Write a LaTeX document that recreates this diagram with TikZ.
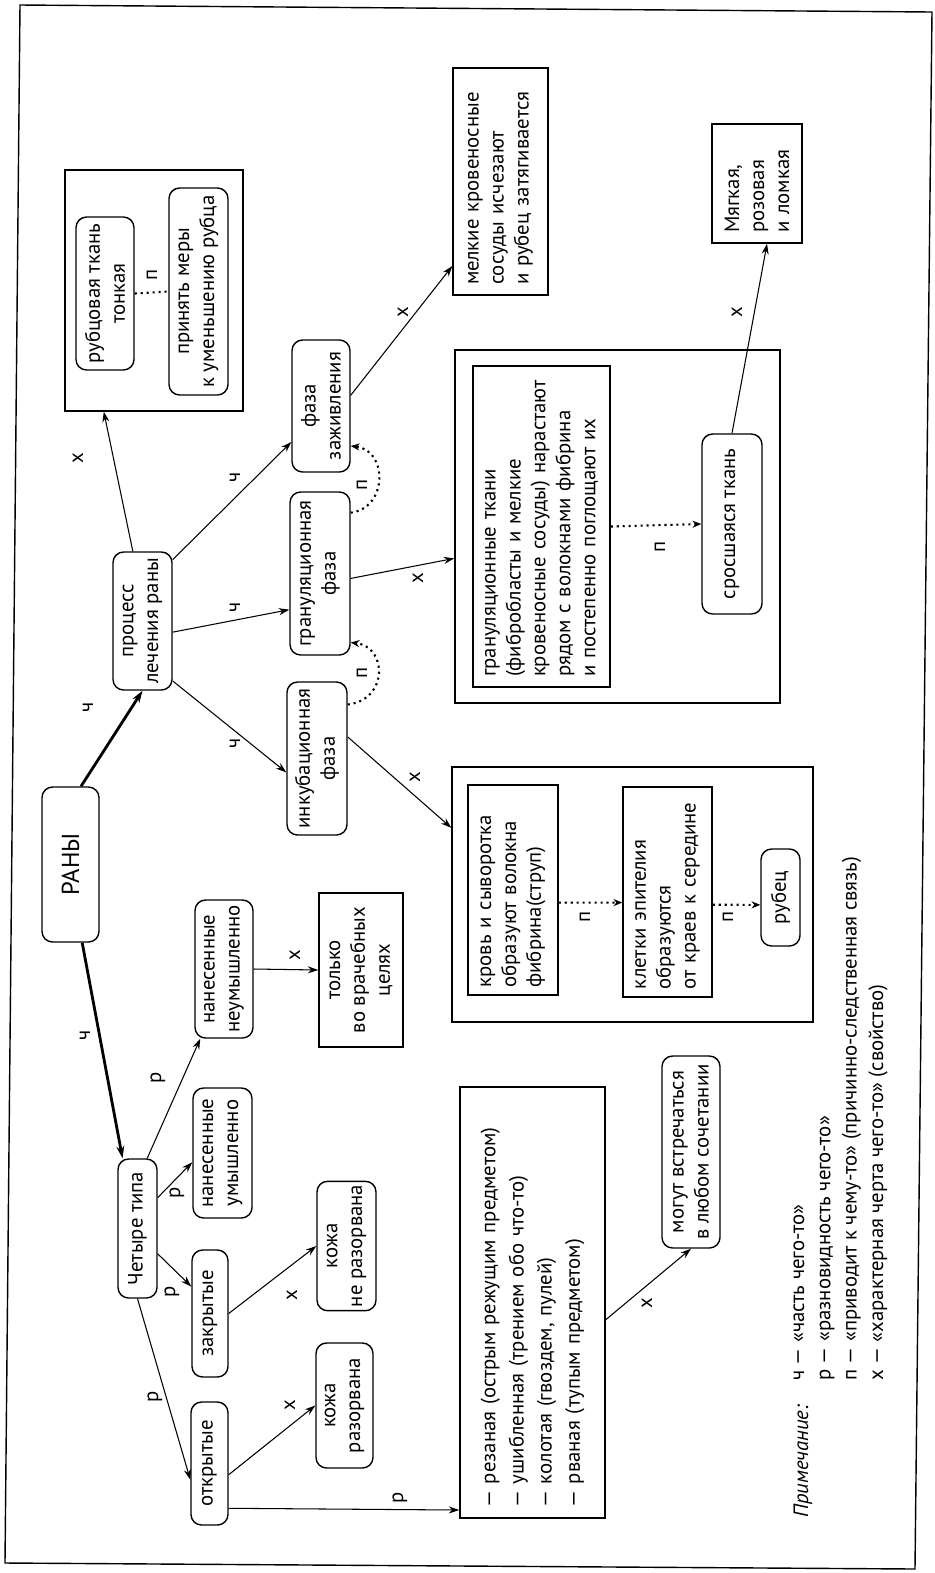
\documentclass[tikz,border=0pt]{standalone}
\usepackage{fontspec}
\setmainfont{PT Sans}
\usetikzlibrary{arrows.meta,calc}
\newcommand\dfont{\fontsize{11.8}{14.2}\selectfont}
\newcommand\bigfont{\fontsize{14}{16}\selectfont}
\begin{document}
\begin{tikzpicture}[x=0.02cm,y=0.02cm,
  rbox/.style={draw, rounded corners=6pt, line width=0.8pt, align=center, inner sep=2pt, font=\dfont},
  sbox/.style={draw, line width=0.8pt, align=left, inner xsep=0.2cm, inner ysep=2pt, font=\dfont},
  cbox/.style={draw, line width=0.8pt, align=center, inner sep=2pt, font=\dfont},
  frm/.style={draw, line width=0.8pt, inner sep=0pt},
  conn/.style={-{Stealth[length=6pt,width=4pt]}, line width=0.6pt},
  thk/.style={-{Stealth[length=7pt,width=4.5pt]}, line width=1.6pt},
  dotc/.style={-{Stealth[length=5pt,width=4pt]}, line width=1.2pt, dash pattern=on 1.2pt off 2.2pt},
  lbl/.style={font=\dfont, inner sep=1pt}
]
\useasboundingbox (0,0) rectangle (935,-1573);
\draw[line width=0.8pt] (20,-5) -- (932,-12) -- (915,-1569) -- (5,-1563) -- cycle;
\begin{scope}[rotate=90, transform shape]
% main nodes
\node[rbox, font=\bigfont, minimum width=3.1cm, minimum height=1.14cm] (ran) at (-864.5,-70.5) {РАНЫ};
\node[rbox, minimum width=2.76cm, minimum height=1.18cm] (proc) at (-621,-142.5) {процесс\\лечения раны};
\node[rbox, minimum width=2.64cm, minimum height=1.16cm] (zazh) at (-406,-321) {фаза\\заживления};
\node[rbox, minimum width=3.26cm, minimum height=1.2cm] (gran) at (-573.5,-320) {грануляционная\\фаза};
\node[rbox, minimum width=3.06cm, minimum height=1.2cm] (inkub) at (-758.5,-317) {инкубационная\\фаза};
% top box
\node[frm, minimum width=4.82cm, minimum height=3.56cm] (topbox) at (-290.5,-154) {};
\node[rbox, minimum width=3.06cm, minimum height=1.16cm] (rubthin) at (-293.5,-105) {рубцовая ткань\\тонкая};
\node[rbox, minimum width=4.14cm, minimum height=1.18cm] (mery) at (-291.5,-198.5) {принять меры\\к уменьшению рубца};
% melk
\node[sbox, text width=4.14cm, minimum height=1.9cm] (melk) at (-181.5,-500.5) {мелкие кровеносные\\сосуды исчезают\\и рубец затягивается};
% granulation group
\node[frm, minimum width=7.06cm, minimum height=6.5cm] (granbig) at (-526.5,-617.5) {};
\node[sbox, text width=6.02cm, minimum height=2.74cm] (grantext) at (-526.5,-541.5) {грануляционные ткани\\(фибробласты и мелкие\\кровеносные сосуды) нарастают\\рядом с волокнами фибрина\\и постепенно поглощают их};
\node[rbox, minimum width=3.6cm, minimum height=1.2cm] (sross) at (-524,-732) {сросшаяся ткань};
\node[sbox, text width=1.98cm, minimum height=1.8cm] (myag) at (-183.5,-757) {Мягкая,\\розовая\\и ломкая};
% incubation group
\node[frm, minimum width=5.1cm, minimum height=7.22cm] (inkbig) at (-894.5,-632.5) {};
\node[sbox, inner xsep=0.15cm, text width=3.9cm, minimum height=1.8cm] (krov) at (-890,-513) {кровь и сыворотка\\образуют волокна\\фибрина(струп)};
\node[sbox, inner xsep=0.15cm, text width=3.9cm, minimum height=1.78cm] (klet) at (-892,-667.5) {клетки эпителия\\образуются\\от краев к середине};
\node[rbox, minimum width=1.94cm, minimum height=0.78cm] (rubec) at (-897.5,-780.5) {рубец};
% types
\node[rbox, minimum width=2.78cm, minimum height=0.78cm] (chet) at (-1228.5,-137.5) {Четыре типа};
\node[rbox, minimum width=2.6cm, minimum height=1.18cm] (num) at (-1153,-222.5) {нанесенные\\умышленно};
\node[rbox, minimum width=2.76cm, minimum height=1.16cm] (neum) at (-969,-224) {нанесенные\\неумышленно};
\node[cbox, minimum width=3.08cm, minimum height=1.68cm] (tolko) at (-970,-361) {только\\во врачебных\\целях};
\node[rbox, minimum width=2.54cm, minimum height=0.72cm] (zakr) at (-1313.5,-210) {закрытые};
\node[rbox, minimum width=2.56cm, minimum height=1.18cm] (nerazorv) at (-1246,-346.5) {кожа\\не разорвана};
\node[rbox, minimum width=2.46cm, minimum height=0.74cm] (otkr) at (-1463.5,-209.5) {открытые};
\node[rbox, minimum width=2.5cm, minimum height=1.14cm] (razorv) at (-1405.5,-344.5) {кожа\\разорвана};
\node[sbox, text width=8.22cm, minimum height=2.9cm, font=\fontsize{11.8}{16}\selectfont] (list) at (-1302.5,-532.5) {— резаная (острым режущим предметом)\\— ушибленная (трением обо что-то)\\— колотая (гвоздем, пулей)\\— рваная (тупым предметом)};
\node[rbox, minimum width=3.84cm, minimum height=1.16cm] (mogut) at (-1152,-691) {могут встречаться\\в любом сочетании};
% legend
\node[lbl, anchor=east, font=\dfont\itshape] (note) at (-1403,-803) {Примечание:};
\node[lbl, anchor=west, align=left, font=\fontsize{11.8}{15}\selectfont] (legend) at (-1383,-840.5) {ч — «часть чего-то»\\р — «разновидность чего-то»\\п — «приводит к чему-то» (причинно-следственная связь)\\х — «характерная черта чего-то» (свойство)};
% connectors
\draw[thk] ($(ran.north east)!0.68!(ran.south east)$) -- (proc.west);
\draw[thk] ($(ran.north west)!0.7!(ran.south west)$) -- ($(chet.north east)!0.13!(chet.south east)$);
\draw[conn] ($(proc.north east)!0.34!(proc.south east)$) -- ($(topbox.north west)!0.22!(topbox.south west)$);
\draw[conn] ($(proc.south west)!0.94!(proc.south east)$) -- ($(zazh.north west)!0.23!(zazh.north east)$);
\draw[conn] ($(proc.south west)!0.42!(proc.south east)$) -- ($(gran.north west)!0.28!(gran.north east)$);
\draw[conn] ($(proc.south west)!0.07!(proc.south east)$) -- ($(inkub.north west)!0.41!(inkub.north east)$);
\draw[conn] ($(zazh.south west)!0.58!(zazh.south east)$) -- ($(melk.north west)!0.13!(melk.north east)$);
\draw[conn] ($(gran.south west)!0.47!(gran.south east)$) -- ($(granbig.north west)!0.41!(granbig.north east)$);
\draw[conn] ($(inkub.south west)!0.64!(inkub.south east)$) -- ($(inkbig.north west)!0.76!(inkbig.north east)$);
\draw[dotc] ($(inkub.south west)!0.85!(inkub.south east)$) .. controls (-700,-388) and (-647,-388) .. ($(gran.south west)!0.08!(gran.south east)$);
\draw[dotc] ($(gran.south west)!0.87!(gran.south east)$) .. controls (-508,-388) and (-450,-388) .. ($(zazh.south west)!0.2!(zazh.south east)$);
\draw[dotc] (grantext.south) -- (sross.north);
\draw[conn] (sross.east) -- ($(myag.north west)!0.61!(myag.south west)$);
\draw[dotc] ($(krov.south)!0.12!(krov.south west)$) -- ($(klet.north)!0.1!(klet.north west)$);
\draw[dotc] ($(klet.south)!0.12!(klet.south west)$) -- ($(rubec.north)!0.15!(rubec.north west)$);
\draw[line width=1.2pt, dash pattern=on 1.2pt off 2.2pt] (rubthin.south) -- (mery.north);
\draw[conn] ($(chet.north east)!0.74!(chet.south east)$) -- ($(neum.north west)!0.1!(neum.south west)$);
\draw[conn] ($(chet.south west)!0.72!(chet.south east)$) -- ($(num.north west)!0.43!(num.north east)$);
\draw[conn] ($(chet.south west)!0.32!(chet.south east)$) -- ($(zakr.north west)!0.71!(zakr.north east)$);
\draw[conn] (zakr.south) -- (nerazorv.north);
\draw[conn] (chet.west) -- ($(otkr.north west)!0.37!(otkr.north east)$);
\draw[conn] ($(otkr.south west)!0.41!(otkr.south east)$) -- (razorv.north);
\draw[conn] ($(otkr.south west)!0.14!(otkr.south east)$) -- ($(list.north west)!0.02!(list.north east)$);
\draw[conn] (neum.south) -- (tolko.north);
\draw[conn] ($(list.south west)!0.46!(list.south east)$) -- (mogut.west);
% labels
\node[lbl] (l1) at (-458,-78) {х};
\node[lbl] (l2) at (-275,-152) {п};
\node[lbl] (l3) at (-707,-88) {ч};
\node[lbl] (l4) at (-477,-235) {ч};
\node[lbl] (l5) at (-607,-235) {ч};
\node[lbl] (l6) at (-743,-235) {ч};
\node[lbl] (l7) at (-673,-362) {п};
\node[lbl] (l8) at (-485,-362) {п};
\node[lbl] (l9) at (-312,-403) {х};
\node[lbl] (l10) at (-578,-418) {х};
\node[lbl] (l11) at (-777,-415) {х};
\node[lbl] (l12) at (-547,-660) {п};
\node[lbl] (l13) at (-312,-737) {х};
\node[lbl] (l14) at (-917,-585) {п};
\node[lbl] (l15) at (-917,-728) {п};
\node[lbl] (l16) at (-1035,-85) {ч};
\node[lbl] (l17) at (-1078,-158) {р};
\node[lbl] (l18) at (-955,-295) {х};
\node[lbl] (l19) at (-1193,-177) {р};
\node[lbl] (l20) at (-1292,-172) {р};
\node[lbl] (l21) at (-1295,-292) {х};
\node[lbl] (l22) at (-1397,-155) {р};
\node[lbl] (l23) at (-1405,-290) {х};
\node[lbl] (l24) at (-1498,-400) {р};
\node[lbl] (l25) at (-1303,-647) {х};
\end{scope}
\end{tikzpicture}
\end{document}
